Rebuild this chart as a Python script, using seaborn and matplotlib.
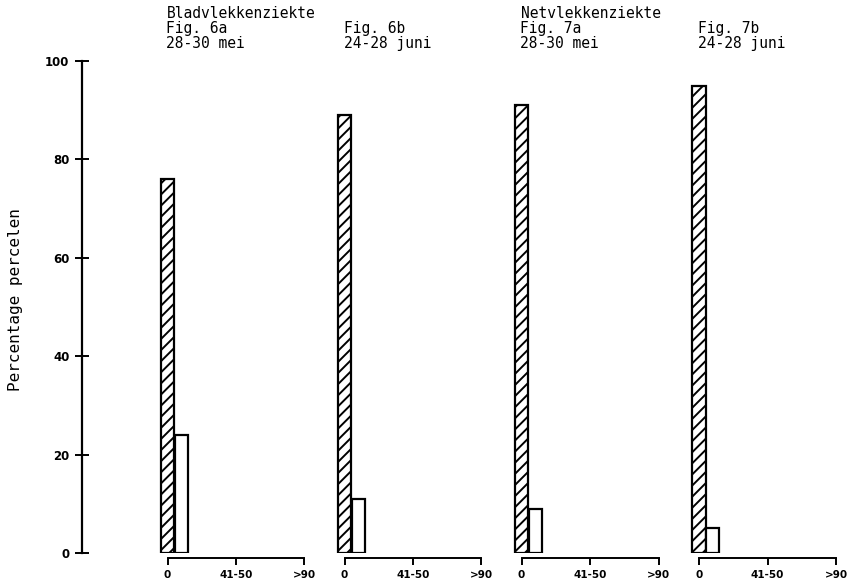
import matplotlib
matplotlib.use("Agg")
import matplotlib.pyplot as plt
import seaborn as sns
import pandas as pd

sns.set_theme(style="white")
plt.rcParams['font.family'] = ['DejaVu Sans Mono', 'DejaVu Sans']
plt.rcParams['hatch.linewidth'] = 1.4

# ---- data ----
categories = ['0', '1-10', '11-20', '21-30', '31-40', '41-50',
              '51-60', '61-70', '71-80', '81-90', '>90']
fig6a = [76, 24, 0, 0, 0, 0, 0, 0, 0, 0, 0]
fig6b = [89, 11, 0, 0, 0, 0, 0, 0, 0, 0, 0]
fig7a = [91, 9, 0, 0, 0, 0, 0, 0, 0, 0, 0]
fig7b = [95, 5, 0, 0, 0, 0, 0, 0, 0, 0, 0]
panel_values = [fig6a, fig6b, fig7a, fig7b]
fig_labels = ['Fig. 6a', 'Fig. 6b', 'Fig. 7a', 'Fig. 7b']
periods = ['28-30 mei', '24-28 juni', '28-30 mei', '24-28 juni']
disease_titles = ['Bladvlekkenziekte', None, 'Netvlekkenziekte', None]
xtick_labels = ['0', '41-50', '>90']
ytick_values = [0, 20, 40, 60, 80, 100]
ylabel = 'Percentage percelen'

# ---- layout ----
W, H = 851, 586
fig = plt.figure(figsize=(W / 100, H / 100), dpi=100)
fig.patch.set_facecolor('white')

y0_px, y100_px = 553, 61
bottom = (H - y0_px) / H
height = (y0_px - y100_px) / H

px_per_cat = 13.7
x0_pixels = [167.5, 344.5, 521.5, 699.0]
xmin, xmax = -1.0, 10.5

# y-axis only axes
ax_y = fig.add_axes([82 / W, bottom, 0.0005, height])
ax_y.set_ylim(0, 100)
ax_y.set_xticks([])
for s in ['top', 'right', 'bottom']:
    ax_y.spines[s].set_visible(False)
ax_y.spines['left'].set_linewidth(1.6)
ax_y.spines['left'].set_color('black')
ax_y.set_yticks(ytick_values)
ax_y.set_yticklabels([str(v) for v in ytick_values])
ax_y.tick_params(axis='y', direction='inout', length=10, width=1.4,
                 color='black', pad=4, left=True, labelsize=8.5,
                 labelcolor='black')
for lab in ax_y.get_yticklabels():
    lab.set_fontweight('bold')
    lab.set_family('DejaVu Sans')
ax_y.patch.set_alpha(0)

for i, vals in enumerate(panel_values):
    x0 = x0_pixels[i]
    left_px = x0 + xmin * px_per_cat
    width_px = (xmax - xmin) * px_per_cat
    ax = fig.add_axes([left_px / W, bottom, width_px / W, height])
    df = pd.DataFrame({'cat': categories, 'pct': vals})
    df = df[df['pct'] > 0]
    sns.barplot(data=df, x='cat', y='pct', order=categories, ax=ax,
                color='white', edgecolor='black', linewidth=1.6,
                width=0.95, saturation=1)
    for j, p in enumerate(ax.patches):
        p.set_facecolor('white')
        if j == 0:
            p.set_hatch('///')
    ax.set_xlim(xmin, xmax)
    ax.set_ylim(0, 100)
    ax.set_xlabel('')
    ax.set_ylabel('')
    for s in ['top', 'right', 'left']:
        ax.spines[s].set_visible(False)
    ax.spines['bottom'].set_bounds(0, 10)
    ax.spines['bottom'].set_position(('outward', 3.6))
    ax.spines['bottom'].set_linewidth(1.4)
    ax.spines['bottom'].set_color('black')
    ax.set_yticks([])
    ax.set_xticks([0, 5, 10])
    ax.set_xticklabels(xtick_labels, fontweight='bold', family='DejaVu Sans')
    ax.tick_params(axis='x', direction='out', length=5, width=1.4,
                   color='black', pad=4, bottom=True, labelsize=7.5,
                   labelcolor='black')
    ax.patch.set_alpha(0)

    # header texts
    xf = (x0 - 1) / W
    if disease_titles[i]:
        fig.text(xf, 1 - 18 / H, disease_titles[i], fontsize=10.5,
                 va='baseline', ha='left', color='black')
    fig.text(xf, 1 - 33 / H, fig_labels[i], fontsize=10.5,
             va='baseline', ha='left', color='black')
    fig.text(xf, 1 - 48 / H, periods[i], fontsize=10.5,
             va='baseline', ha='left', color='black')

fig.text(16 / W, 1 - 300 / H, ylabel, rotation=90, fontsize=11.5,
         va='center', ha='center', color='black')

fig.savefig('out.png', dpi=100, facecolor='white')
